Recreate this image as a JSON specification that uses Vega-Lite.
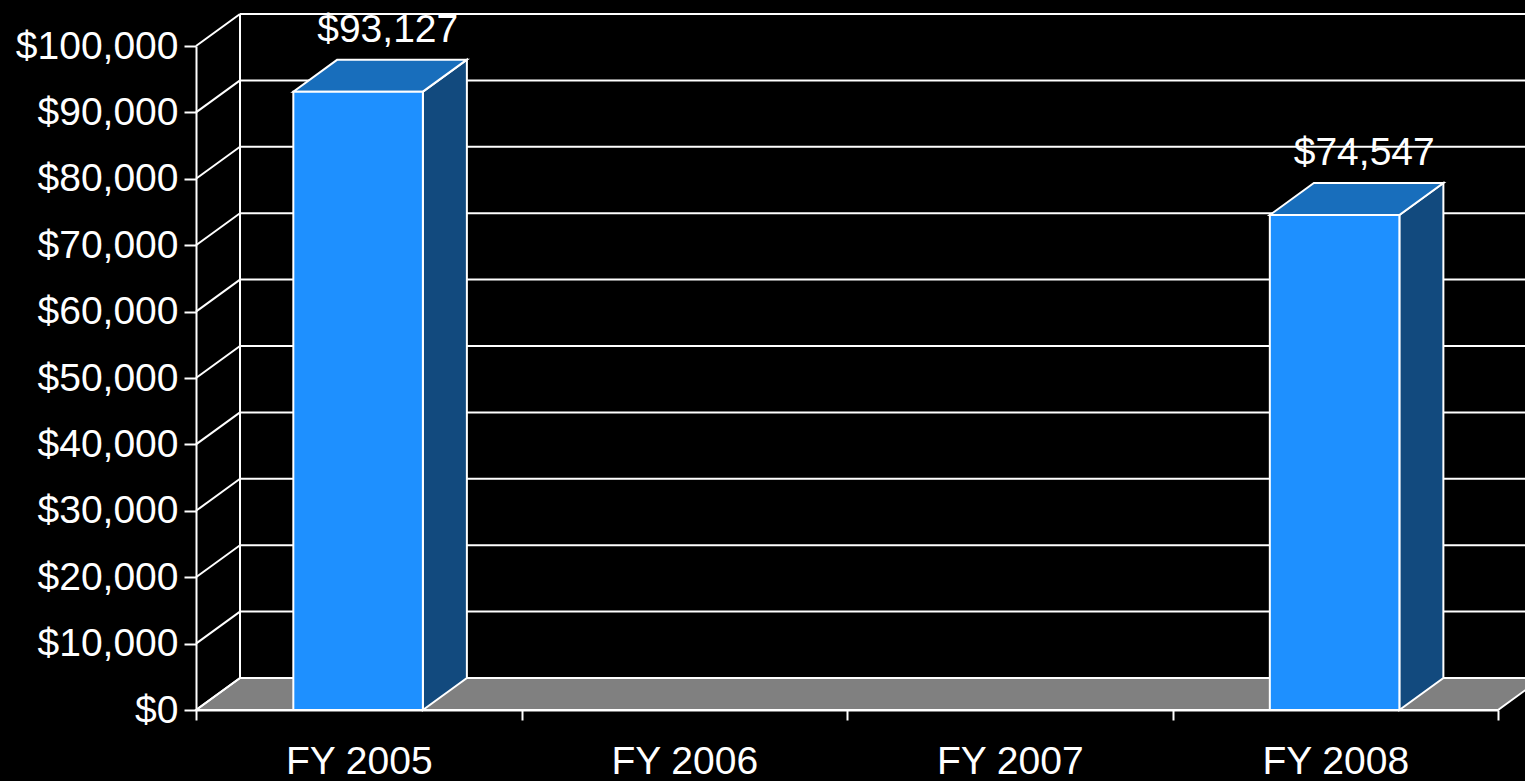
{
  "$schema": "https://vega.github.io/schema/vega-lite/v6.json",
  "autosize": {"type": "none"},
  "width": 1302,
  "height": 664,
  "padding": {"left": 196, "top": 46, "right": 27, "bottom": 71},
  "background": "#000000",
  "config": {"view": {"stroke": null}, "font": "Liberation Sans"},
  "datasets": {
    "sales": [
      {"year": "FY 2005", "value": 93127},
      {"year": "FY 2006", "value": null},
      {"year": "FY 2007", "value": null},
      {"year": "FY 2008", "value": 74547}
    ],
    "ticks": [
      {"v": 0}, {"v": 10000}, {"v": 20000}, {"v": 30000}, {"v": 40000}, {"v": 50000},
      {"v": 60000}, {"v": 70000}, {"v": 80000}, {"v": 90000}, {"v": 100000}
    ]
  },
  "layer": [
    {
      "data": {"name": "ticks"},
      "transform": [
        {"filter": "datum.v == 0"},
        {"calculate": "[0,1]", "as": "t"},
        {"flatten": ["t"]},
        {"calculate": "datum.t * 0.1352", "as": "fx"},
        {"calculate": "4 + datum.t * 0.1352", "as": "fx2"},
        {"calculate": "datum.t * 4820", "as": "fy"}
      ],
      "mark": {"type": "area", "orient": "horizontal", "fill": "#808080", "stroke": "#ffffff", "strokeWidth": 2},
      "encoding": {
        "y": {
          "field": "fy", "type": "quantitative",
          "scale": {"domain": [0, 100000], "nice": false, "zero": true},
          "axis": {
            "title": null,
            "values": [0, 10000, 20000, 30000, 40000, 50000, 60000, 70000, 80000, 90000, 100000],
            "format": "$,d",
            "grid": false,
            "labelFont": "Liberation Sans",
            "labelFontSize": 39,
            "labelColor": "#ffffff",
            "labelPadding": 6,
            "tickSize": 12,
            "tickColor": "#ffffff",
            "tickWidth": 2,
            "domainColor": "#ffffff",
            "domainWidth": 2,
            "labelOverlap": false
          }
        },
        "x": {
          "field": "fx", "type": "quantitative",
          "scale": {"domain": [0, 4], "nice": false, "zero": true},
          "axis": {
            "title": null,
            "values": [0, 0.5, 1, 1.5, 2, 2.5, 3, 3.5, 4],
            "labelExpr": "datum.value % 1 == 0.5 ? ['FY 2005','FY 2006','FY 2007','FY 2008'][floor(datum.value)] : ''",
            "tickOpacity": {"condition": {"test": "datum.value % 1 != 0", "value": 0}, "value": 1},
            "grid": false,
            "labelFont": "Liberation Sans",
            "labelFontSize": 39,
            "labelColor": "#ffffff",
            "labelPadding": 22,
            "labelOverlap": false,
            "labelFlush": false,
            "tickSize": 10,
            "tickColor": "#ffffff",
            "tickWidth": 2,
            "domainColor": "#ffffff",
            "domainWidth": 2
          }
        },
        "x2": {"field": "fx2"}
      }
    },
    {
      "data": {"name": "ticks"},
      "transform": [
        {"calculate": "datum.v + 4820", "as": "vb"},
        {"calculate": "0.1352", "as": "ga"},
        {"calculate": "4.1352", "as": "gb"}
      ],
      "mark": {"type": "rule", "color": "#ffffff", "strokeWidth": 2},
      "encoding": {
        "x": {"field": "ga", "type": "quantitative"},
        "x2": {"field": "gb"},
        "y": {"field": "vb", "type": "quantitative"}
      }
    },
    {
      "data": {"name": "ticks"},
      "transform": [
        {"calculate": "datum.v + 4820", "as": "vb"},
        {"calculate": "0", "as": "ga"},
        {"calculate": "0.1352", "as": "gb"}
      ],
      "mark": {"type": "rule", "color": "#ffffff", "strokeWidth": 2},
      "encoding": {
        "x": {"field": "ga", "type": "quantitative"},
        "x2": {"field": "gb"},
        "y": {"field": "v", "type": "quantitative"},
        "y2": {"field": "vb"}
      }
    },
    {
      "data": {"name": "ticks"},
      "transform": [
        {"filter": "datum.v == 0"},
        {"calculate": "0.1352", "as": "ga"},
        {"calculate": "4820", "as": "ya"},
        {"calculate": "104820", "as": "yb"}
      ],
      "mark": {"type": "rule", "color": "#ffffff", "strokeWidth": 2},
      "encoding": {
        "x": {"field": "ga", "type": "quantitative"},
        "y": {"field": "ya", "type": "quantitative"},
        "y2": {"field": "yb"}
      }
    },
    {
      "data": {"name": "sales"},
      "transform": [
        {"window": [{"op": "row_number", "as": "i"}]},
        {"filter": "datum.value != null"},
        {"calculate": "datum.i - 1 + 0.697", "as": "x1"},
        {"calculate": "[0,1]", "as": "t"},
        {"flatten": ["t"]},
        {"calculate": "datum.x1 + datum.t * 0.1352", "as": "sx"},
        {"calculate": "datum.t * 4820", "as": "sy"},
        {"calculate": "datum.value + datum.t * 4820", "as": "sy2"}
      ],
      "mark": {"type": "area", "fill": "#124A7E", "stroke": "#ffffff", "strokeWidth": 2, "strokeJoin": "miter"},
      "encoding": {
        "x": {"field": "sx", "type": "quantitative"},
        "y": {"field": "sy", "type": "quantitative"},
        "y2": {"field": "sy2"},
        "detail": {"field": "year", "type": "nominal"}
      }
    },
    {
      "data": {"name": "sales"},
      "transform": [
        {"window": [{"op": "row_number", "as": "i"}]},
        {"filter": "datum.value != null"},
        {"calculate": "datum.i - 1 + 0.299", "as": "x0"},
        {"calculate": "datum.i - 1 + 0.697", "as": "x1"},
        {"calculate": "[0,1]", "as": "t"},
        {"flatten": ["t"]},
        {"calculate": "datum.x0 + datum.t * 0.1352", "as": "tx"},
        {"calculate": "datum.x1 + datum.t * 0.1352", "as": "tx2"},
        {"calculate": "datum.value + datum.t * 4820", "as": "ty"}
      ],
      "mark": {"type": "area", "orient": "horizontal", "fill": "#186EBC", "stroke": "#ffffff", "strokeWidth": 2, "strokeJoin": "miter"},
      "encoding": {
        "y": {"field": "ty", "type": "quantitative"},
        "x": {"field": "tx", "type": "quantitative"},
        "x2": {"field": "tx2"},
        "detail": {"field": "year", "type": "nominal"}
      }
    },
    {
      "data": {"name": "sales"},
      "transform": [
        {"window": [{"op": "row_number", "as": "i"}]},
        {"filter": "datum.value != null"},
        {"calculate": "datum.i - 1 + 0.299", "as": "x0"},
        {"calculate": "datum.i - 1 + 0.697", "as": "x1"},
        {"calculate": "0", "as": "base"}
      ],
      "mark": {"type": "rect", "fill": "#1E90FF", "stroke": "#ffffff", "strokeWidth": 2},
      "encoding": {
        "x": {"field": "x0", "type": "quantitative"},
        "x2": {"field": "x1"},
        "y": {"field": "base", "type": "quantitative"},
        "y2": {"field": "value"}
      }
    },
    {
      "data": {"name": "sales"},
      "transform": [
        {"window": [{"op": "row_number", "as": "i"}]},
        {"filter": "datum.value != null"},
        {"calculate": "datum.i - 1 + 0.589", "as": "lx"},
        {"calculate": "datum.value + 4820", "as": "ly"}
      ],
      "mark": {"type": "text", "color": "#ffffff", "font": "Liberation Sans", "fontSize": 39, "baseline": "alphabetic", "align": "center", "dy": -18},
      "encoding": {
        "x": {"field": "lx", "type": "quantitative"},
        "y": {"field": "ly", "type": "quantitative"},
        "text": {"field": "value", "type": "quantitative", "format": "$,d"}
      }
    }
  ]
}
